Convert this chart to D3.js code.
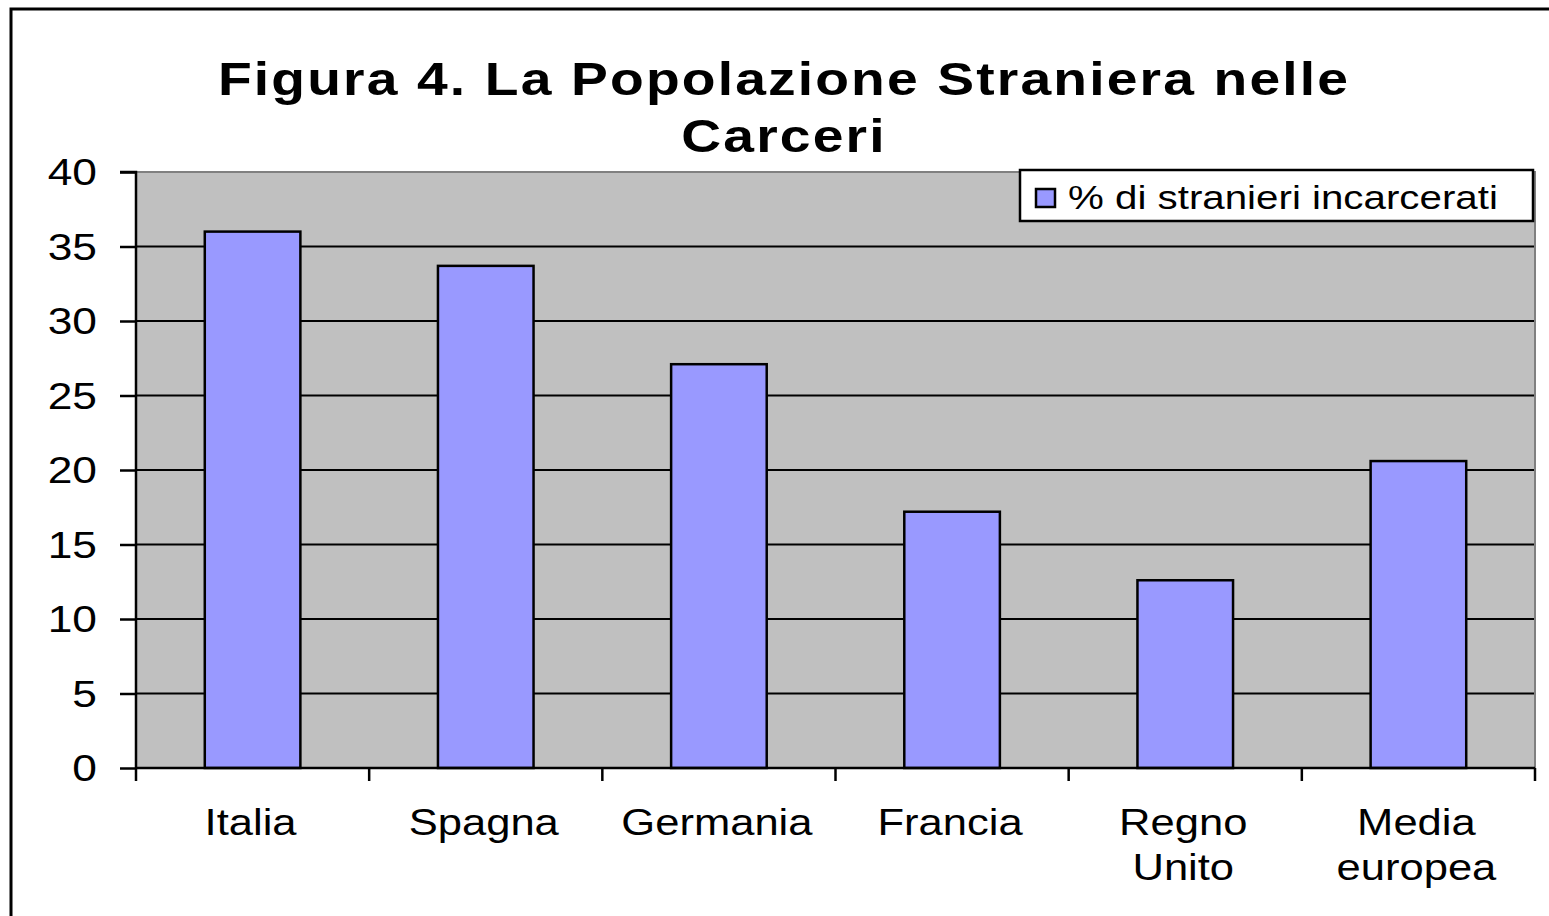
<!DOCTYPE html>
<html>
<head>
<meta charset="utf-8">
<script src="https://cdn.jsdelivr.net/npm/d3@7"></script>
<style>
  html, body { margin: 0; padding: 0; background: #fff; }
  svg { display: block; }
  text { font-family: "Liberation Sans", Arial, sans-serif; fill: #000; }
</style>
</head>
<body>
<svg id="chart" width="1549" height="916"></svg>
<script>
// ---- data ----
const categories = ["Italia", "Spagna", "Germania", "Francia", "Regno Unito", "Media europea"];
const categoryLines = [["Italia"], ["Spagna"], ["Germania"], ["Francia"], ["Regno", "Unito"], ["Media", "europea"]];
const values = [36.0, 33.7, 27.1, 17.2, 12.6, 20.6];
const yTicks = [0, 5, 10, 15, 20, 25, 30, 35, 40];
const seriesName = "% di stranieri incarcerati";
const titleLines = ["Figura 4. La Popolazione Straniera nelle", "Carceri"];

// ---- layout ----
const svg = d3.select("#chart");
const plot = { left: 136, right: 1535, top: 172, bottom: 768 };
const SX = 1.21; // horizontal stretch of glyphs in the reference

// outer frame
svg.append("rect")
  .attr("x", 11).attr("y", 9).attr("width", 1600).attr("height", 1000)
  .attr("fill", "#fff").attr("stroke", "#000").attr("stroke-width", 3);

const x = d3.scaleBand().domain(categories)
  .range([plot.left, plot.right]).paddingInner(0.59).paddingOuter(0.295);
const y = d3.scaleLinear().domain([0, 40]).range([plot.bottom, plot.top]);

// plot background
svg.append("rect")
  .attr("x", plot.left).attr("y", plot.top)
  .attr("width", plot.right - plot.left).attr("height", plot.bottom - plot.top)
  .attr("fill", "#C0C0C0");

// gridlines
svg.append("g").selectAll("line")
  .data(yTicks.filter(t => t > 0 && t < 40))
  .join("line")
  .attr("x1", plot.left).attr("x2", plot.right)
  .attr("y1", d => y(d)).attr("y2", d => y(d))
  .attr("stroke", "#000").attr("stroke-width", 2);

// top & right plot border (gray)
svg.append("path")
  .attr("d", `M${plot.left},${y(40)}H${plot.right}V${plot.bottom}`)
  .attr("fill", "none").attr("stroke", "#808080").attr("stroke-width", 2);

// bars
svg.append("g").selectAll("rect")
  .data(values)
  .join("rect")
  .attr("x", (d, i) => x(categories[i]))
  .attr("y", d => y(d))
  .attr("width", x.bandwidth())
  .attr("height", d => y(0) - y(d))
  .attr("fill", "#9999FF")
  .attr("stroke", "#000").attr("stroke-width", 2.5);

// y axis
const yAxis = d3.axisLeft(y).tickValues(yTicks).tickSize(16).tickFormat("");
const ya = svg.append("g").attr("transform", `translate(${plot.left},0)`).call(yAxis);
ya.select(".domain").attr("stroke", "#000").attr("stroke-width", 2.5).attr("d", `M-16,${y(40)}H0V${y(0)}`);
ya.selectAll(".tick line").attr("stroke", "#000").attr("stroke-width", 2.5);

svg.append("g").selectAll("text")
  .data(yTicks)
  .join("text")
  .attr("transform", d => `translate(97,${y(d) + 13}) scale(${SX * 0.99},1)`)
  .attr("text-anchor", "end")
  .attr("font-size", 37)
  .text(d => d);

// x axis
const boundaries = d3.range(categories.length + 1).map(i => plot.left + i * x.step());
svg.append("line")
  .attr("x1", plot.left).attr("x2", plot.right)
  .attr("y1", y(0)).attr("y2", y(0))
  .attr("stroke", "#000").attr("stroke-width", 2.5);
svg.append("g").selectAll("line")
  .data(boundaries)
  .join("line")
  .attr("x1", d => d).attr("x2", d => d)
  .attr("y1", y(0)).attr("y2", y(0) + 13)
  .attr("stroke", "#000").attr("stroke-width", 2.5);

const xl = svg.append("g").selectAll("g")
  .data(categories)
  .join("g")
  .attr("transform", d => `translate(${x(d) + x.bandwidth() / 2 - 2},835) scale(${SX},1)`);
xl.each(function (d, i) {
  d3.select(this).selectAll("text")
    .data(categoryLines[i])
    .join("text")
    .attr("y", (l, j) => j * 45)
    .attr("text-anchor", "middle")
    .attr("font-size", 36)
    .text(l => l);
});

// title
svg.append("g").selectAll("text")
  .data(titleLines)
  .join("text")
  .attr("transform", (d, i) => `translate(784,${95 + i * 57}) scale(1.2,1)`)
  .attr("text-anchor", "middle")
  .attr("font-size", 46)
  .attr("font-weight", "bold")
  .attr("letter-spacing", 1.8)
  .text(d => d);

// legend
const lg = svg.append("g");
lg.append("rect")
  .attr("x", 1020).attr("y", 170).attr("width", 513).attr("height", 51)
  .attr("fill", "#fff").attr("stroke", "#000").attr("stroke-width", 2.5);
lg.append("rect")
  .attr("x", 1036).attr("y", 189).attr("width", 19).attr("height", 18)
  .attr("fill", "#9999FF").attr("stroke", "#000").attr("stroke-width", 2.5);
lg.append("text")
  .attr("transform", `translate(1068,209) scale(${SX},1)`)
  .attr("font-size", 33.3)
  .text(seriesName);
</script>
</body>
</html>
